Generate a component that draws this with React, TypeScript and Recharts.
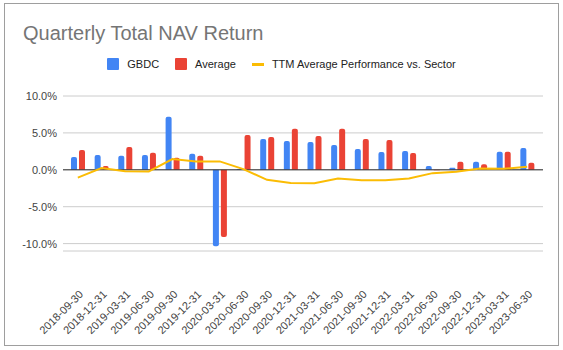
import React from "react";
import {
  ComposedChart,
  Bar,
  Line,
  XAxis,
  YAxis,
  CartesianGrid,
  ReferenceLine,
} from "recharts";

const categories = [
  "2018-09-30", "2018-12-31", "2019-03-31", "2019-06-30", "2019-09-30",
  "2019-12-31", "2020-03-31", "2020-06-30", "2020-09-30", "2020-12-31",
  "2021-03-31", "2021-06-30", "2021-09-30", "2021-12-31", "2022-03-31",
  "2022-06-30", "2022-09-30", "2022-12-31", "2023-03-31", "2023-06-30",
];
const gbdc = [1.73, 2.0, 1.9, 2.0, 7.18, 2.18, -10.36, 0.1, 4.18, 3.9, 3.77, 3.36, 2.82, 2.41, 2.55, 0.5, 0.27, 1.09, 2.45, 2.95];
const average = [2.68, 0.5, 3.1, 2.3, 1.64, 1.9, -9.1, 4.73, 4.45, 5.55, 4.59, 5.55, 4.18, 4.05, 2.27, -0.05, 1.09, 0.77, 2.45, 0.95];
const ttm = [-1.05, 0.23, -0.18, -0.23, 1.45, 1.14, 1.14, 0.1, -1.36, -1.8, -1.82, -1.18, -1.41, -1.41, -1.18, -0.45, -0.27, 0.18, 0.14, 0.41];
const yTicks = [-10, -5, 0, 5, 10];

const data = categories.map((c, i) => ({
  date: c,
  GBDC: gbdc[i],
  Average: average[i],
  TTM: ttm[i],
}));

const BLUE = "#4285F4";
const RED = "#EA4335";
const YELLOW = "#FBBC04";
const FONT = "Arial, 'Liberation Sans', sans-serif";

const XTick = (props: any) => {
  const { x, y, payload } = props;
  return (
    <g transform={`translate(${x + 6},${y + 44}) rotate(-45)`}>
      <text x={0} y={0} textAnchor="end" fill="#444" fontSize={11} fontFamily={FONT}>
        {payload.value}
      </text>
    </g>
  );
};

const legendItems = [
  { label: "GBDC", color: BLUE, kind: "square" },
  { label: "Average", color: RED, kind: "square" },
  { label: "TTM Average Performance vs. Sector", color: YELLOW, kind: "line" },
];

const LegendBlock = () => (
  <div
    style={{
      position: "absolute",
      left: 0,
      top: 58,
      width: 563,
      display: "flex",
      justifyContent: "center",
      alignItems: "center",
      fontFamily: FONT,
      fontSize: 11,
      color: "#222",
    }}
  >
    {legendItems.map((it, i) => (
      <div key={it.label} style={{ display: "flex", alignItems: "center", marginRight: i < legendItems.length - 1 ? 16 : 0 }}>
        {it.kind === "square" ? (
          <div style={{ width: 12, height: 12, background: it.color, borderRadius: 1, marginRight: 8 }} />
        ) : (
          <div style={{ width: 12, height: 3, background: it.color, marginRight: 8 }} />
        )}
        <span style={{ lineHeight: "12px" }}>{it.label}</span>
      </div>
    ))}
  </div>
);

export default function App() {
  return (
    <div style={{ position: "absolute", left: 0, top: 0, width: 563, height: 350, background: "#fff" }}>
      <div
        style={{
          position: "absolute",
          left: 4,
          top: 3,
          width: 555,
          height: 343,
          border: "1px solid #9e9e9e",
          boxSizing: "border-box",
        }}
      />
      <div
        style={{
          position: "absolute",
          left: 23,
          top: 21,
          fontFamily: FONT,
          fontSize: 20,
          color: "#757575",
          lineHeight: "24px",
          whiteSpace: "nowrap",
        }}
      >
        Quarterly Total NAV Return
      </div>
      <LegendBlock />
      <div style={{ position: "absolute", left: 0, top: 0 }}>
        <ComposedChart
          width={563}
          height={350}
          data={data}
          margin={{ top: 96, right: 20, bottom: 9, left: 0 }}
          barSize={6}
          barGap={2}
        >
          <CartesianGrid vertical={false} stroke="#cccccc" />
          <XAxis
            dataKey="date"
            interval={0}
            axisLine={false}
            tickLine={false}
            tickSize={0}
            tickMargin={0}
            height={90}
            padding={{ left: 3, right: 4 }}
            tick={<XTick />}
          />
          <YAxis
            domain={[-11, 10]}
            ticks={yTicks}
            width={63}
            axisLine={false}
            tickLine={false}
            tickSize={4}
            tickMargin={2}
            tick={{ fill: "#444", fontSize: 11, fontFamily: FONT }}
            tickFormatter={(v: number) => `${v.toFixed(1)}%`}
          />
          <Bar dataKey="GBDC" fill={BLUE} radius={[2, 2, 0, 0]} isAnimationActive={false} />
          <Bar dataKey="Average" fill={RED} radius={[2, 2, 0, 0]} isAnimationActive={false} />
          <ReferenceLine y={0} stroke="#333" strokeWidth={1} />
          <Line
            type="linear"
            dataKey="TTM"
            stroke={YELLOW}
            strokeWidth={2}
            dot={false}
            activeDot={false}
            isAnimationActive={false}
          />
        </ComposedChart>
      </div>
    </div>
  );
}
